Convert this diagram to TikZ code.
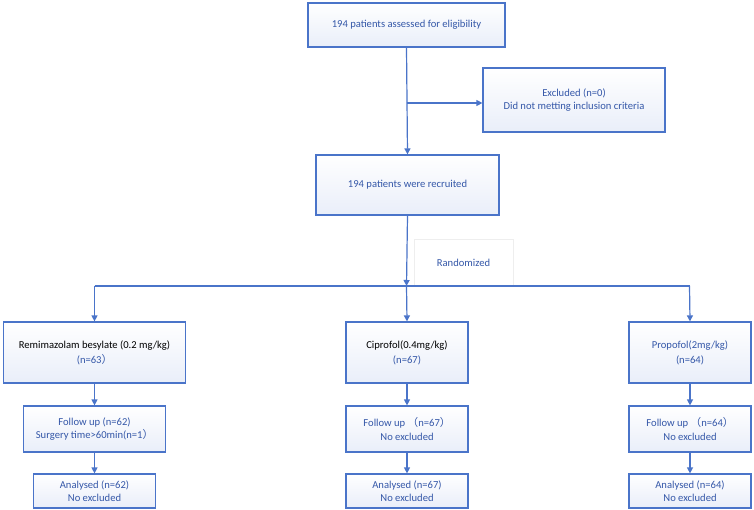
\documentclass[tikz,border=0pt]{standalone}
\usepackage{fontspec}
\setmainfont{Carlito}
\newfontfamily\cjk{Noto Sans CJK SC}
\usetikzlibrary{arrows.meta}
\definecolor{bord}{HTML}{4A74C9}
\definecolor{txt}{HTML}{3457A8}
\definecolor{fillb}{HTML}{E9EEF9}
\definecolor{faint}{HTML}{EEEEEE}
\newcommand{\fl}{{\cjk （}}
\newcommand{\fr}{{\cjk ）}}
\begin{document}
\begin{tikzpicture}[x=1pt,y=-1pt,
  box/.style={draw=bord, line width=1.2pt, top color=white, bottom color=fillb,
    text=txt, align=center, inner sep=0pt, font=\fontsize{10.6}{13.5}\selectfont},
  conn/.style={draw=bord, line width=1.2pt},
  arr/.style={conn, -{Triangle[length=6pt,width=6pt]}}]
\useasboundingbox (0,0) rectangle (754,510);
\fill[white] (0,0) rectangle (754,510);
\node[box, minimum width=197pt, minimum height=44pt] (top) at (406.5,25) {194 patients assessed for eligibility};
\node[box, minimum width=182pt, minimum height=64pt] (excl) at (574,100) {Excluded (n=0)\\Did not metting inclusion criteria};
\node[box, minimum width=183pt, minimum height=60pt] (recr) at (407.5,185) {194 patients were recruited};
\node[draw=faint, line width=0.8pt, minimum width=99pt, minimum height=47pt, inner sep=0pt, text=txt, font=\fontsize{10.6}{13.5}\selectfont] (rand) at (463.5,262.5) {Randomized};
\coordinate (bx) at (406.5,103);
\coordinate (split) at (406.5,286);
\coordinate (sl) at (94.5,286);
\coordinate (sr) at (689.5,286);
\node[box, minimum width=182pt, minimum height=61pt, font=\fontsize{10.6}{15}\selectfont] (g1) at (94.5,352.5) {\textcolor{black}{Remimazolam besylate (0.2 mg/kg)}\\(n=63\fr};
\node[box, minimum width=122pt, minimum height=61pt, font=\fontsize{10.6}{15}\selectfont] (g2) at (407,352.5) {\textcolor{black}{Ciprofol(0.4mg/kg)}\\(n=67)};
\node[box, minimum width=122pt, minimum height=61pt, font=\fontsize{10.6}{15}\selectfont] (g3) at (690,352.5) {Propofol(2mg/kg)\\(n=64)};
\node[box, minimum width=142pt, minimum height=46pt] (f1) at (94.5,429) {Follow up (n=62)\\Surgery time>60min(n=1\fr};
\node[box, minimum width=122pt, minimum height=46pt] (f2) at (407,429) {Follow up \fl n=67\fr\\No excluded};
\node[box, minimum width=122pt, minimum height=46pt] (f3) at (690,429) {Follow up \fl n=64\fr\\No excluded};
\node[box, minimum width=122pt, minimum height=34pt, font=\fontsize{10.6}{12.5}\selectfont] (a1) at (94.5,491) {Analysed (n=62)\\No excluded};
\node[box, minimum width=122pt, minimum height=34pt, font=\fontsize{10.6}{12.5}\selectfont] (a2) at (407,491) {Analysed (n=67)\\No excluded};
\node[box, minimum width=122pt, minimum height=34pt, font=\fontsize{10.6}{12.5}\selectfont] (a3) at (690,491) {Analysed (n=64)\\No excluded};
\draw[arr] (top.south) -- (recr.north);
\draw[arr] (bx) -- (excl.west |- bx);
\draw[arr] (recr.south) -- (split);
\draw[conn] (sl) -- (sr);
\draw[arr] (sl) -- (g1.north);
\draw[arr] (split) -- (g2.north);
\draw[arr] (sr) -- (g3.north);
\draw[arr] (g1.south) -- (f1.north);
\draw[arr] (g2.south) -- (f2.north);
\draw[arr] (g3.south) -- (f3.north);
\draw[arr] (f1.south) -- (a1.north);
\draw[arr] (f2.south) -- (a2.north);
\draw[arr] (f3.south) -- (a3.north);
\end{tikzpicture}
\end{document}
